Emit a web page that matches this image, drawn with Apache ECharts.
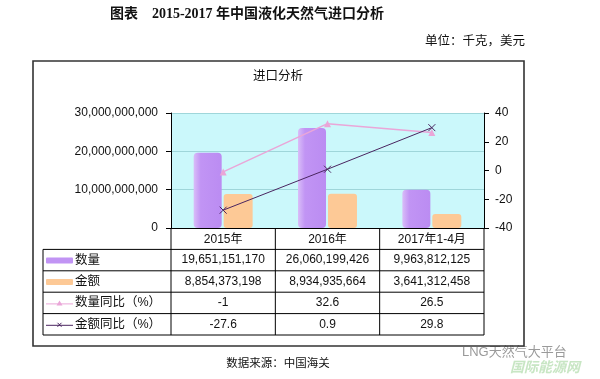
<!DOCTYPE html>
<html><head><meta charset="utf-8">
<script src="https://cdn.jsdelivr.net/npm/echarts@6/dist/echarts.min.js"></script>
<style>html,body{margin:0;padding:0;background:#fff}#c{width:600px;height:379px}</style>
</head><body><div id="c"></div>
<script>
var categories = ['2015年', '2016年', '2017年1-4月'];
var quantity = [19651151170, 26060199426, 9963812125];
var amount = [8854373198, 8934935664, 3641312458];
var qtyYoY = [-1, 32.6, 26.5];
var amtYoY = [-27.6, 0.9, 29.8];
var seriesNames = ['数量', '金额', '数量同比（%）', '金额同比（%）'];
var leftTicks = [0, 10000000000, 20000000000, 30000000000];
var rightTicks = [-40, -20, 0, 20, 40];

var fmt = function (v) { return Number(v).toLocaleString('en-US'); };
var SANS = '"Liberation Sans", Arial, "Noto Sans CJK SC", sans-serif';
var PURPLE = '#c194f4', PEACH = '#fdc996', PINK = '#eaa6d8', DARK = '#4a2560';

// layout
var GL = 171, GR = 484, GT = 113, GB = 228, W = 600, H = 379;
var RH = 21.4;
var TL = 43;

var chart = echarts.init(document.getElementById('c'));

var g = [];
// outer box
g.push({ type: 'rect', shape: { x: 33, y: 61, width: 491, height: 285 }, style: { fill: 'none', stroke: '#333', lineWidth: 1.6 }, z: 1 });
// titles
g.push({ type: 'text', x: 247, y: 14, style: { text: '图表　2015-2017 年中国液化天然气进口分析', font: 'bold 14px "Liberation Serif", "Noto Sans CJK SC", serif', fill: '#111', align: 'center', verticalAlign: 'middle' } });
g.push({ type: 'text', x: 425, y: 42, style: { text: '单位：千克，美元', font: '12.5px ' + SANS, fill: '#111', align: 'left', verticalAlign: 'middle' } });
g.push({ type: 'text', x: 278, y: 77, style: { text: '进口分析', font: '12.5px ' + SANS, fill: '#111', align: 'center', verticalAlign: 'middle' } });
g.push({ type: 'text', x: 278, y: 364, style: { text: '数据来源：中国海关', font: '11.5px ' + SANS, fill: '#111', align: 'center', verticalAlign: 'middle' } });
// watermark
g.push({ type: 'text', x: 462, y: 352, style: { text: 'LNG天然气大平台', font: '13px ' + SANS, fill: '#9a9a9a', align: 'left', verticalAlign: 'middle' } });
g.push({ type: 'text', x: 510, y: 368, style: { text: '国际能源网', font: 'italic bold 14px ' + SANS, fill: '#c8e6c4', align: 'left', verticalAlign: 'middle' } });

// table
var catW = (GR - GL) / categories.length;
var rows = [quantity.map(fmt), amount.map(fmt), qtyYoY.map(String), amtYoY.map(String)];
var tBottom = GB + RH * (rows.length + 1);
var line = function (x1, y1, x2, y2) {
  g.push({ type: 'line', shape: { x1: x1, y1: y1, x2: x2, y2: y2 }, style: { stroke: '#000', lineWidth: 1 }, z: 5 });
};
for (var i = 0; i <= categories.length; i++) {
  line(GL + catW * i, GB, GL + catW * i, tBottom);
}
line(TL, GB + RH, TL, tBottom);
for (var r = 1; r <= rows.length + 1; r++) {
  line(TL, GB + RH * r, GR, GB + RH * r);
}
for (r = 0; r < rows.length; r++) {
  var cy = GB + RH * (r + 1.5);
  for (i = 0; i < categories.length; i++) {
    g.push({ type: 'text', x: GL + catW * (i + 0.5), y: cy, style: { text: rows[r][i], font: '12px ' + SANS, fill: '#111', align: 'center', verticalAlign: 'middle' }, z: 6 });
  }
  g.push({ type: 'text', x: 75, y: cy, style: { text: seriesNames[r], font: '12.5px ' + SANS, fill: '#111', align: 'left', verticalAlign: 'middle' }, z: 6 });
  if (r < 2) {
    g.push({ type: 'rect', shape: { x: 46, y: cy - 2.5, width: 27, height: 6, r: 1 }, style: { fill: r === 0 ? PURPLE : PEACH }, z: 6 });
  } else {
    var col = r === 2 ? PINK : DARK;
    g.push({ type: 'line', shape: { x1: 46, y1: cy + 1, x2: 73, y2: cy + 1 }, style: { stroke: col, lineWidth: 1 }, z: 6 });
    if (r === 2) {
      g.push({ type: 'polygon', shape: { points: [[59.5, cy - 2.5], [56.5, cy + 2.5], [62.5, cy + 2.5]] }, style: { fill: PINK }, z: 6 });
    } else {
      g.push({ type: 'polyline', shape: { points: [[57.5, cy - 1.5], [61.5, cy + 2.5]] }, style: { stroke: DARK, lineWidth: 1 }, z: 6 });
      g.push({ type: 'polyline', shape: { points: [[61.5, cy - 1.5], [57.5, cy + 2.5]] }, style: { stroke: DARK, lineWidth: 1 }, z: 6 });
    }
  }
}

chart.setOption({
  animation: false,
  backgroundColor: '#fff',
  textStyle: { fontFamily: SANS },
  grid: { left: GL, top: GT, right: W - GR, bottom: H - GB, show: true, backgroundColor: '#cbf8fb', borderWidth: 0 },
  xAxis: {
    type: 'category', data: categories,
    axisLine: { lineStyle: { color: '#000', width: 1 } },
    axisTick: { show: false },
    axisLabel: { color: '#111', fontSize: 12, margin: 6, fontFamily: SANS }
  },
  yAxis: [{
    type: 'value', min: leftTicks[0], max: leftTicks[leftTicks.length - 1], interval: leftTicks[1] - leftTicks[0],
    axisLine: { show: true, lineStyle: { color: '#000' } },
    axisTick: { show: true, length: 5, lineStyle: { color: '#000' } },
    axisLabel: { color: '#111', fontSize: 12, margin: 13, formatter: fmt, fontFamily: SANS },
    splitLine: { show: true, lineStyle: { color: '#9fd6da', width: 1 } }
  }, {
    type: 'value', min: rightTicks[0], max: rightTicks[rightTicks.length - 1], interval: rightTicks[1] - rightTicks[0],
    position: 'right',
    axisLine: { show: true, lineStyle: { color: '#000' } },
    axisTick: { show: true, length: 5, lineStyle: { color: '#000' } },
    axisLabel: { color: '#111', fontSize: 12, margin: 11, fontFamily: SANS },
    splitLine: { show: false }
  }],
  series: [{
    name: seriesNames[0], type: 'bar', data: quantity, yAxisIndex: 0,
    barWidth: 28, barGap: '7%',
    itemStyle: { color: { type: 'linear', x: 0, y: 0, x2: 1, y2: 0, colorStops: [{ offset: 0, color: '#d9bdf8' }, { offset: 0.25, color: PURPLE }, { offset: 1, color: '#bb8cf2' }] }, borderRadius: 4 }
  }, {
    name: seriesNames[1], type: 'bar', data: amount, yAxisIndex: 0,
    barWidth: 29,
    itemStyle: { color: PEACH, borderRadius: 3 }
  }, {
    name: seriesNames[2], type: 'line', data: qtyYoY, yAxisIndex: 1,
    lineStyle: { color: PINK, width: 1.5 },
    symbol: 'triangle', symbolSize: 7,
    itemStyle: { color: PINK }, z: 4
  }, {
    name: seriesNames[3], type: 'line', data: amtYoY, yAxisIndex: 1,
    lineStyle: { color: DARK, width: 1 },
    symbol: 'path://M0,0L10,10M10,0L0,10', symbolSize: 7,
    itemStyle: { color: 'none', borderColor: DARK, borderWidth: 1 }, z: 4
  }],
  graphic: g
});
</script></body></html>
